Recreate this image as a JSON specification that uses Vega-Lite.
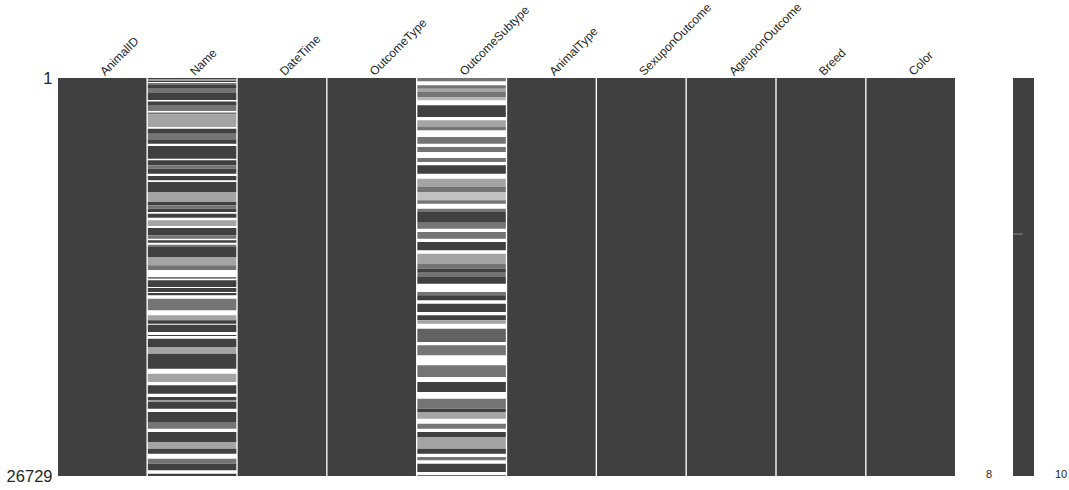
{
  "$schema": "https://vega.github.io/schema/vega-lite/v6.json",
  "padding": {"left": 6, "top": 0, "right": 0, "bottom": 0},
  "background": "white",
  "config": {"view": {"stroke": null}, "font": "Liberation Sans"},
  "bounds": "flush",
  "spacing": 13,
  "datasets": {
    "cells": [
      {"col": "AnimalID", "start": 1, "end": 26729, "presence": 1},
      {"col": "DateTime", "start": 1, "end": 26729, "presence": 1},
      {"col": "OutcomeType", "start": 1, "end": 26729, "presence": 1},
      {"col": "AnimalType", "start": 1, "end": 26729, "presence": 1},
      {"col": "SexuponOutcome", "start": 1, "end": 26729, "presence": 1},
      {"col": "AgeuponOutcome", "start": 1, "end": 26729, "presence": 1},
      {"col": "Breed", "start": 1, "end": 26729, "presence": 1},
      {"col": "Color", "start": 1, "end": 26729, "presence": 1},
      {"col": "Name", "start": 1, "end": 101, "presence": 1},
      {"col": "Name", "start": 168, "end": 269, "presence": 1},
      {"col": "Name", "start": 336, "end": 470, "presence": 0.7},
      {"col": "Name", "start": 470, "end": 672, "presence": 1},
      {"col": "Name", "start": 672, "end": 1007, "presence": 0.7},
      {"col": "Name", "start": 1007, "end": 1478, "presence": 1},
      {"col": "Name", "start": 1578, "end": 1813, "presence": 1},
      {"col": "Name", "start": 1813, "end": 2216, "presence": 0.7},
      {"col": "Name", "start": 2317, "end": 2451, "presence": 0.7},
      {"col": "Name", "start": 2451, "end": 3291, "presence": 0.45},
      {"col": "Name", "start": 3405, "end": 3741, "presence": 1},
      {"col": "Name", "start": 3741, "end": 4164, "presence": 0.7},
      {"col": "Name", "start": 4164, "end": 4412, "presence": 1},
      {"col": "Name", "start": 4567, "end": 5420, "presence": 1},
      {"col": "Name", "start": 5527, "end": 5863, "presence": 1},
      {"col": "Name", "start": 5863, "end": 6091, "presence": 0.7},
      {"col": "Name", "start": 6091, "end": 6427, "presence": 1},
      {"col": "Name", "start": 6582, "end": 6870, "presence": 1},
      {"col": "Name", "start": 6985, "end": 7656, "presence": 1},
      {"col": "Name", "start": 7656, "end": 8328, "presence": 0.45},
      {"col": "Name", "start": 8328, "end": 8549, "presence": 1},
      {"col": "Name", "start": 8549, "end": 8778, "presence": 0.7},
      {"col": "Name", "start": 8778, "end": 8999, "presence": 1},
      {"col": "Name", "start": 9114, "end": 9382, "presence": 1},
      {"col": "Name", "start": 9557, "end": 9940, "presence": 0.45},
      {"col": "Name", "start": 10074, "end": 10564, "presence": 1},
      {"col": "Name", "start": 10564, "end": 10792, "presence": 0.7},
      {"col": "Name", "start": 10900, "end": 11061, "presence": 1},
      {"col": "Name", "start": 11196, "end": 11350, "presence": 0.7},
      {"col": "Name", "start": 11350, "end": 12022, "presence": 1},
      {"col": "Name", "start": 12022, "end": 12579, "presence": 0.45},
      {"col": "Name", "start": 12579, "end": 12895, "presence": 0.7},
      {"col": "Name", "start": 13365, "end": 13479, "presence": 0.7},
      {"col": "Name", "start": 13587, "end": 14044, "presence": 1},
      {"col": "Name", "start": 14110, "end": 14380, "presence": 1},
      {"col": "Name", "start": 14440, "end": 14594, "presence": 1},
      {"col": "Name", "start": 14823, "end": 15601, "presence": 0.7},
      {"col": "Name", "start": 15937, "end": 16273, "presence": 0.45},
      {"col": "Name", "start": 16273, "end": 16500, "presence": 1},
      {"col": "Name", "start": 16570, "end": 17059, "presence": 1},
      {"col": "Name", "start": 17260, "end": 17328, "presence": 1},
      {"col": "Name", "start": 17509, "end": 18066, "presence": 1},
      {"col": "Name", "start": 18066, "end": 18516, "presence": 0.45},
      {"col": "Name", "start": 18516, "end": 19524, "presence": 1},
      {"col": "Name", "start": 19859, "end": 20417, "presence": 0.45},
      {"col": "Name", "start": 20638, "end": 21202, "presence": 1},
      {"col": "Name", "start": 21424, "end": 21660, "presence": 1},
      {"col": "Name", "start": 21730, "end": 22210, "presence": 1},
      {"col": "Name", "start": 22432, "end": 23103, "presence": 1},
      {"col": "Name", "start": 23103, "end": 23553, "presence": 0.7},
      {"col": "Name", "start": 23775, "end": 24446, "presence": 1},
      {"col": "Name", "start": 24446, "end": 24896, "presence": 0.45},
      {"col": "Name", "start": 24896, "end": 25232, "presence": 1},
      {"col": "Name", "start": 25568, "end": 25904, "presence": 0.7},
      {"col": "Name", "start": 25904, "end": 26347, "presence": 1},
      {"col": "Name", "start": 26576, "end": 26729, "presence": 1},
      {"col": "OutcomeSubtype", "start": 1, "end": 222, "presence": 0.7},
      {"col": "OutcomeSubtype", "start": 490, "end": 719, "presence": 0.7},
      {"col": "OutcomeSubtype", "start": 719, "end": 940, "presence": 0.45},
      {"col": "OutcomeSubtype", "start": 940, "end": 1276, "presence": 0.7},
      {"col": "OutcomeSubtype", "start": 1276, "end": 1498, "presence": 0.35},
      {"col": "OutcomeSubtype", "start": 1833, "end": 2619, "presence": 1},
      {"col": "OutcomeSubtype", "start": 2841, "end": 3291, "presence": 0.45},
      {"col": "OutcomeSubtype", "start": 3291, "end": 3512, "presence": 0.7},
      {"col": "OutcomeSubtype", "start": 3962, "end": 4412, "presence": 0.7},
      {"col": "OutcomeSubtype", "start": 4634, "end": 4970, "presence": 0.7},
      {"col": "OutcomeSubtype", "start": 5373, "end": 5641, "presence": 0.7},
      {"col": "OutcomeSubtype", "start": 5863, "end": 6427, "presence": 1},
      {"col": "OutcomeSubtype", "start": 6763, "end": 7320, "presence": 0.45},
      {"col": "OutcomeSubtype", "start": 7320, "end": 7656, "presence": 0.7},
      {"col": "OutcomeSubtype", "start": 7656, "end": 8214, "presence": 0.3},
      {"col": "OutcomeSubtype", "start": 8214, "end": 8442, "presence": 0.7},
      {"col": "OutcomeSubtype", "start": 8778, "end": 8999, "presence": 0.7},
      {"col": "OutcomeSubtype", "start": 8999, "end": 9671, "presence": 1},
      {"col": "OutcomeSubtype", "start": 9671, "end": 10121, "presence": 0.7},
      {"col": "OutcomeSubtype", "start": 10343, "end": 10792, "presence": 0.7},
      {"col": "OutcomeSubtype", "start": 11014, "end": 11572, "presence": 1},
      {"col": "OutcomeSubtype", "start": 11800, "end": 12490, "presence": 0.45},
      {"col": "OutcomeSubtype", "start": 12490, "end": 12807, "presence": 0.7},
      {"col": "OutcomeSubtype", "start": 12807, "end": 13029, "presence": 1},
      {"col": "OutcomeSubtype", "start": 13029, "end": 13365, "presence": 0.7},
      {"col": "OutcomeSubtype", "start": 13365, "end": 13815, "presence": 1},
      {"col": "OutcomeSubtype", "start": 14374, "end": 14594, "presence": 0.7},
      {"col": "OutcomeSubtype", "start": 14594, "end": 14930, "presence": 1},
      {"col": "OutcomeSubtype", "start": 15158, "end": 15715, "presence": 1},
      {"col": "OutcomeSubtype", "start": 15937, "end": 16273, "presence": 1},
      {"col": "OutcomeSubtype", "start": 16273, "end": 16501, "presence": 0.45},
      {"col": "OutcomeSubtype", "start": 16837, "end": 17730, "presence": 0.8},
      {"col": "OutcomeSubtype", "start": 17952, "end": 18623, "presence": 0.7},
      {"col": "OutcomeSubtype", "start": 19295, "end": 20081, "presence": 0.7},
      {"col": "OutcomeSubtype", "start": 20417, "end": 21089, "presence": 1},
      {"col": "OutcomeSubtype", "start": 21538, "end": 22210, "presence": 0.7},
      {"col": "OutcomeSubtype", "start": 22210, "end": 22432, "presence": 1},
      {"col": "OutcomeSubtype", "start": 22432, "end": 22882, "presence": 0.45},
      {"col": "OutcomeSubtype", "start": 23217, "end": 23553, "presence": 0.7},
      {"col": "OutcomeSubtype", "start": 23775, "end": 24111, "presence": 1},
      {"col": "OutcomeSubtype", "start": 24111, "end": 24896, "presence": 0.45},
      {"col": "OutcomeSubtype", "start": 24896, "end": 25232, "presence": 1},
      {"col": "OutcomeSubtype", "start": 25454, "end": 25676, "presence": 0.7},
      {"col": "OutcomeSubtype", "start": 25904, "end": 26461, "presence": 1},
      {"col": "OutcomeSubtype", "start": 26683, "end": 26729, "presence": 1}
    ],
    "spark": [
      {"start": 1, "end": 26729, "lo": 8, "hi": 10}
    ],
    "sparkgap": [
      {"row": 10477, "lo": 8, "hi": 8.92}
    ],
    "sparklabels": [
      {"side": "min", "label": "8", "pos": 6, "row": 26650},
      {"side": "max", "label": "10", "pos": 12, "row": 26650}
    ]
  },
  "hconcat": [
    {
      "width": 897,
      "height": 398,
      "data": {"name": "cells"},
      "mark": {"type": "rect"},
      "encoding": {
        "x": {
          "field": "col",
          "type": "nominal",
          "sort": ["AnimalID", "Name", "DateTime", "OutcomeType", "OutcomeSubtype", "AnimalType", "SexuponOutcome", "AgeuponOutcome", "Breed", "Color"],
          "scale": {"paddingInner": 0.015, "paddingOuter": 0},
          "axis": {
            "orient": "top",
            "title": null,
            "labelAngle": -45,
            "labelAlign": "left",
            "labelBaseline": "middle",
            "ticks": false,
            "domain": false,
            "labelFontSize": 12,
            "labelColor": "#262626",
            "labelPadding": 5
          }
        },
        "y": {
          "field": "start",
          "type": "quantitative",
          "scale": {"domain": [1, 26729], "reverse": true, "nice": false, "zero": false},
          "axis": {
            "values": [1, 26729],
            "format": "d",
            "title": null,
            "ticks": false,
            "domain": false,
            "grid": false,
            "labelFontSize": 16.5,
            "labelColor": "#262626",
            "labelPadding": 6,
            "labelOverlap": false
          }
        },
        "y2": {"field": "end"},
        "color": {
          "field": "presence",
          "type": "quantitative",
          "scale": {"domain": [0, 1], "range": ["#ffffff", "#404040"]},
          "legend": null
        }
      }
    },
    {
      "width": 101,
      "height": 398,
      "layer": [
        {
          "data": {"name": "spark"},
          "mark": {"type": "rect", "fill": "#404040"},
          "encoding": {
            "x": {"field": "lo", "type": "quantitative", "scale": {"domain": [3.714, 13.333], "nice": false, "zero": false}, "axis": null},
            "x2": {"field": "hi"},
            "y": {"field": "start", "type": "quantitative", "scale": {"domain": [1, 26729], "reverse": true, "nice": false, "zero": false}, "axis": null},
            "y2": {"field": "end"}
          }
        },
        {
          "data": {"name": "sparkgap"},
          "mark": {"type": "rule", "stroke": "#8a8a8a", "strokeWidth": 1},
          "encoding": {
            "x": {"field": "lo", "type": "quantitative"},
            "x2": {"field": "hi"},
            "y": {"field": "row", "type": "quantitative"}
          }
        },
        {
          "data": {"name": "sparklabels"},
          "transform": [{"filter": "datum.side == 'min'"}],
          "mark": {"type": "text", "align": "right", "baseline": "middle", "fontSize": 11, "fill": "#262626"},
          "encoding": {
            "x": {"field": "pos", "type": "quantitative"},
            "y": {"field": "row", "type": "quantitative"},
            "text": {"field": "label"}
          }
        },
        {
          "data": {"name": "sparklabels"},
          "transform": [{"filter": "datum.side == 'max'"}],
          "mark": {"type": "text", "align": "left", "baseline": "middle", "fontSize": 11, "fill": "#262626"},
          "encoding": {
            "x": {"field": "pos", "type": "quantitative"},
            "y": {"field": "row", "type": "quantitative"},
            "text": {"field": "label"}
          }
        }
      ]
    }
  ]
}
